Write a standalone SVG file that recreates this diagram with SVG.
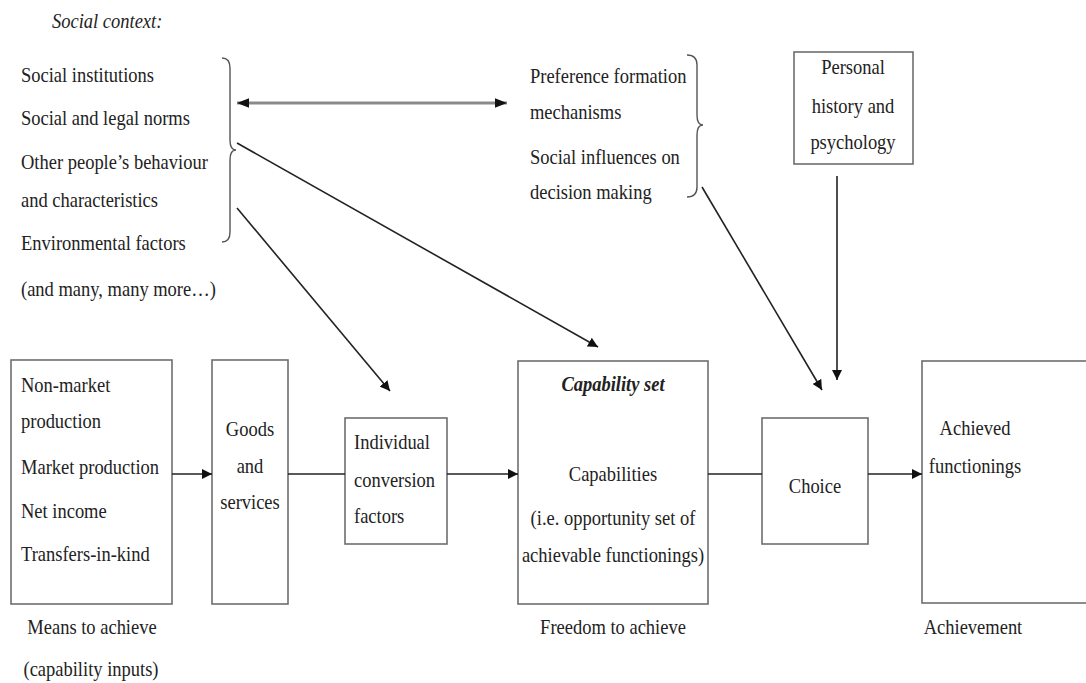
<svg xmlns="http://www.w3.org/2000/svg" width="1086" height="683" viewBox="0 0 1086 683">
<defs>
<marker id="ah" viewBox="0 0 10 10" refX="10" refY="5" markerWidth="10" markerHeight="10" markerUnits="userSpaceOnUse" orient="auto-start-reverse">
<path d="M0,0 L10,5 L0,10 Z" fill="#111"/>
</marker>
<marker id="ah2" viewBox="0 0 10 10" refX="10" refY="5" markerWidth="12" markerHeight="12" markerUnits="userSpaceOnUse" orient="auto-start-reverse">
<path d="M0,1 L10,5 L0,9 Z" fill="#111"/>
</marker>
</defs>
<style>
text{font-family:"Liberation Serif","Times New Roman",serif;font-size:18.5px;fill:#222;transform-box:fill-box;transform-origin:50% 60%;transform:scaleY(1.16)}
.c{text-anchor:middle}
.box{fill:#fff;stroke:#6e6e6e;stroke-width:1.6}
.ln{stroke:#222;stroke-width:1.6;fill:none}
.br{stroke:#555;stroke-width:1.4;fill:none}
</style>
<rect width="1086" height="683" fill="#fff"/>

<g id="social-context">
<text x="52" y="27" font-style="italic">Social context:</text>
<text x="21" y="81">Social institutions</text>
<text x="21" y="124">Social and legal norms</text>
<text x="21" y="168">Other people’s behaviour</text>
<text x="21" y="206">and characteristics</text>
<text x="21" y="249">Environmental factors</text>
<text x="21" y="295">(and many, many more…)</text>
<path class="br" d="M222,58 Q230,58 230,68 L230,140 Q230,150 236,150 Q230,150 230,160 L230,232 Q230,242 222,242"/>
</g>

<g id="preference">
<text x="530" y="82">Preference formation</text>
<text x="530" y="118">mechanisms</text>
<text x="530" y="163">Social influences on</text>
<text x="530" y="198">decision making</text>
<path class="br" d="M687,55 Q697,55 697,65 L697,115 Q697,125 703,125 Q697,125 697,135 L697,187 Q697,197 687,197"/>
</g>

<g id="personal">
<rect class="box" x="794" y="52" width="119" height="112"/>
<text class="c" x="853" y="73">Personal</text>
<text class="c" x="853" y="112">history and</text>
<text class="c" x="853" y="148">psychology</text>
</g>

<g id="means">
<rect class="box" x="11" y="360" width="161" height="244"/>
<text x="21" y="391">Non-market</text>
<text x="21" y="427">production</text>
<text x="21" y="473">Market production</text>
<text x="21" y="517">Net income</text>
<text x="21" y="560">Transfers-in-kind</text>
<text class="c" x="92" y="633">Means to achieve</text>
<text class="c" x="91" y="675">(capability inputs)</text>
</g>

<g id="goods">
<rect class="box" x="212" y="360" width="76" height="244"/>
<text class="c" x="250" y="435">Goods</text>
<text class="c" x="250" y="472">and</text>
<text class="c" x="250" y="508">services</text>
</g>

<g id="conversion">
<rect class="box" x="345" y="418" width="102" height="126"/>
<text x="354" y="448">Individual</text>
<text x="354" y="486">conversion</text>
<text x="354" y="522">factors</text>
</g>

<g id="capability">
<rect class="box" x="518" y="361" width="190" height="243"/>
<text class="c" x="613" y="390" font-style="italic" font-weight="bold">Capability set</text>
<text class="c" x="613" y="480">Capabilities</text>
<text class="c" x="613" y="524">(i.e. opportunity set of</text>
<text class="c" x="613" y="561">achievable functionings)</text>
<text class="c" x="613" y="633">Freedom to achieve</text>
</g>

<g id="choice">
<rect class="box" x="762" y="418" width="106" height="126"/>
<text class="c" x="815" y="492">Choice</text>
</g>

<g id="achieved">
<rect class="box" x="922" y="361" width="170" height="242"/>
<text class="c" x="975" y="434">Achieved</text>
<text class="c" x="975" y="472">functionings</text>
<text class="c" x="973" y="633">Achievement</text>
</g>

<g id="connectors">
<line x1="237" y1="103" x2="507" y2="103" stroke="#8a8a8a" stroke-width="3.2" marker-start="url(#ah2)" marker-end="url(#ah2)"/>
<line class="ln" x1="237" y1="143" x2="598" y2="347" marker-end="url(#ah)"/>
<line class="ln" x1="237" y1="208" x2="390" y2="391" marker-end="url(#ah)"/>
<line class="ln" x1="702" y1="187" x2="822" y2="390" marker-end="url(#ah)"/>
<line class="ln" x1="837" y1="176" x2="837" y2="380" marker-end="url(#ah)"/>
<line class="ln" x1="172" y1="474" x2="212" y2="474" marker-end="url(#ah)"/>
<line class="ln" x1="288" y1="474" x2="345" y2="474"/>
<line class="ln" x1="447" y1="474" x2="518" y2="474" marker-end="url(#ah)"/>
<line class="ln" x1="708" y1="474" x2="762" y2="474"/>
<line class="ln" x1="868" y1="474" x2="922" y2="474" marker-end="url(#ah)"/>
</g>
</svg>
